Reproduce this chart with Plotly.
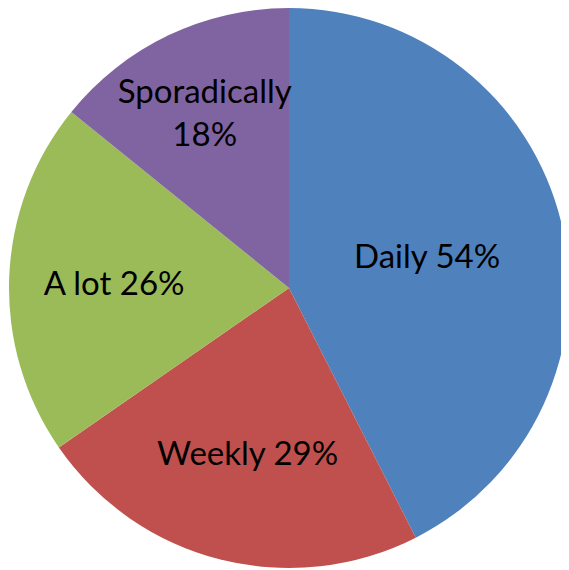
import plotly.graph_objects as go

categories = ['Daily', 'Weekly', 'A lot', 'Sporadically']
values = [54, 29, 26, 18]
labels_text = ['Daily 54%', 'Weekly 29%', 'A lot 26%', 'Sporadically<br>18%']
colors = ['#4F81BD', '#C0504D', '#9BBB59', '#8064A2']

fig = go.Figure(go.Pie(
    labels=categories,
    values=values,
    text=labels_text,
    textinfo='text',
    textposition='inside',
    insidetextorientation='horizontal',
    sort=False,
    direction='clockwise',
    rotation=0,
    marker=dict(colors=colors, line=dict(width=0)),
    textfont=dict(family='Lato', size=33, color='black'),
    hoverinfo='label+value',
))

fig.update_layout(
    width=569, height=570,
    margin=dict(l=0, r=7, t=0, b=10),
    showlegend=False,
    paper_bgcolor='white',
    uniformtext=dict(minsize=33, mode='show'),
)

fig.write_html("out.html")
